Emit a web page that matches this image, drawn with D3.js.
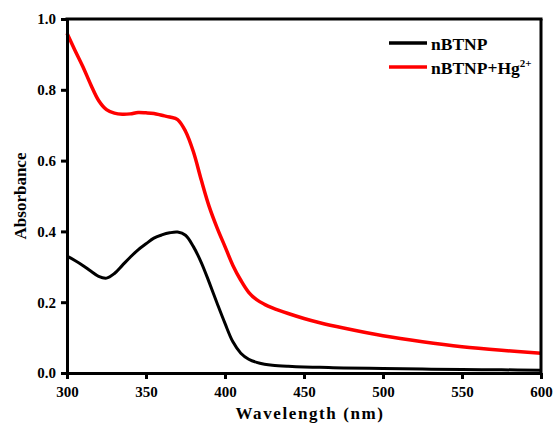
<!DOCTYPE html>
<html>
<head>
<meta charset="utf-8">
<script src="https://cdn.jsdelivr.net/npm/d3@7"></script>
<style>
  body { margin: 0; background: #fff; }
  svg { display: block; font-family: "Times New Roman", "Liberation Serif", Times, "DejaVu Serif", serif; font-weight: bold; }
</style>
</head>
<body>
<div id="chart"></div>
<script>
/* data */
var wavelength = [300,305,310,315,320,325,330,335,340,345,350,355,360,365,370,375,380,385,390,395,400,405,410,415,420,425,430,440,450,460,475,500,525,550,575,600];
var nBTNP = [0.330,0.318,0.304,0.288,0.273,0.268,0.281,0.304,0.327,0.348,0.365,0.381,0.390,0.396,0.398,0.389,0.357,0.312,0.256,0.197,0.140,0.088,0.056,0.039,0.030,0.025,0.022,0.019,0.017,0.016,0.014,0.013,0.011,0.010,0.009,0.008];
var nBTNPHg = [0.960,0.912,0.866,0.815,0.770,0.744,0.734,0.731,0.732,0.736,0.735,0.733,0.728,0.723,0.716,0.683,0.625,0.545,0.470,0.410,0.357,0.304,0.262,0.228,0.207,0.194,0.184,0.168,0.154,0.142,0.127,0.105,0.088,0.074,0.064,0.056];
var xTicks = [300,350,400,450,500,550,600];
var yTicks = [0.0,0.2,0.4,0.6,0.8,1.0];
var seriesNames = ['nBTNP', 'nBTNP+Hg'];
var seriesColors = ['#000000', '#ff0000'];

var fontStack = '"Times New Roman", "Liberation Serif", Times, "DejaVu Serif", serif';

var canvasWidth = 554, canvasHeight = 423;
var margin = { top: 19, right: 13, bottom: 50, left: 67 },
    width = canvasWidth - margin.left - margin.right,
    height = canvasHeight - margin.top - margin.bottom;

var svg = d3.select('#chart').append('svg')
    .attr('width', canvasWidth)
    .attr('height', canvasHeight)
    .append('g')
    .attr('transform', 'translate(' + margin.left + ',' + margin.top + ')');

var x = d3.scaleLinear().domain([300, 600]).range([0, width]);
var y = d3.scaleLinear().domain([0, 1]).range([height, 0]);

// curves
var series = [nBTNP, nBTNPHg];
var line = d3.line()
    .x(function (d) { return x(d[0]); })
    .y(function (d) { return y(d[1]); })
    .curve(d3.curveCatmullRom.alpha(0.5));

series.forEach(function (vals, k) {
    svg.append('path')
        .datum(wavelength.map(function (w, i) { return [w, vals[i]]; }))
        .attr('fill', 'none')
        .attr('stroke', seriesColors[k])
        .attr('stroke-width', k == 1 ? 3.5 : 3)
        .attr('stroke-linejoin', 'round')
        .attr('d', line);
});

// axes
var xAxis = svg.append('g')
    .attr('transform', 'translate(0,' + height + ')')
    .call(d3.axisBottom(x).tickValues(xTicks).tickSize(6).tickSizeOuter(0).tickPadding(7));
var yAxis = svg.append('g')
    .call(d3.axisLeft(y).tickValues(yTicks).tickFormat(d3.format('.1f')).tickSize(6).tickSizeOuter(0).tickPadding(5));

[xAxis, yAxis].forEach(function (a) {
    a.select('.domain').attr('stroke', '#000').attr('stroke-width', 3);
    a.selectAll('.tick line').attr('stroke', '#000').attr('stroke-width', 3);
    a.selectAll('.tick text')
        .style('font-family', fontStack)
        .style('font-weight', 'bold')
        .style('font-size', '15px')
        .attr('fill', '#000');
});

// frame top and right
svg.append('line').attr('x1', -1.5).attr('x2', width + 1.5).attr('y1', 0).attr('y2', 0)
    .attr('stroke', '#000').attr('stroke-width', 3);
svg.append('line').attr('x1', width).attr('x2', width).attr('y1', 0).attr('y2', height + 1.5)
    .attr('stroke', '#000').attr('stroke-width', 3);

// axis titles
svg.append('text')
    .attr('x', width / 2 + 6)
    .attr('y', height + 46)
    .attr('text-anchor', 'middle')
    .style('font-family', fontStack)
    .style('font-size', '17px')
    .style('letter-spacing', '1.6px')
    .text('Wavelength (nm)');

svg.append('text')
    .attr('transform', 'translate(' + (-41) + ',' + (height / 2) + ') rotate(-90)')
    .attr('text-anchor', 'middle')
    .style('font-family', fontStack)
    .style('font-size', '17px')
    .text('Absorbance');

// legend
var legend = svg.selectAll('g.legendg')
    .data(seriesNames)
    .enter().append('g')
    .attr('class', 'legendg')
    .attr('transform', function (d, i) { return 'translate(' + (389 - margin.left) + ',' + (43 - margin.top + i * 24) + ')'; });

legend.append('line')
    .attr('x1', 0).attr('x2', 38)
    .attr('stroke', function (d, i) { return seriesColors[i]; })
    .attr('stroke-width', 3.5);

var legendText = legend.append('text')
    .attr('x', 42)
    .attr('y', 6.5)
    .style('font-family', fontStack)
    .style('font-size', '17.5px')
    .text(function (d) { return d; });

legendText.filter(function (d, i) { return i == 1; })
    .append('tspan')
    .attr('dy', -7)
    .style('font-size', '11px')
    .text('2+');
</script>
</body>
</html>
